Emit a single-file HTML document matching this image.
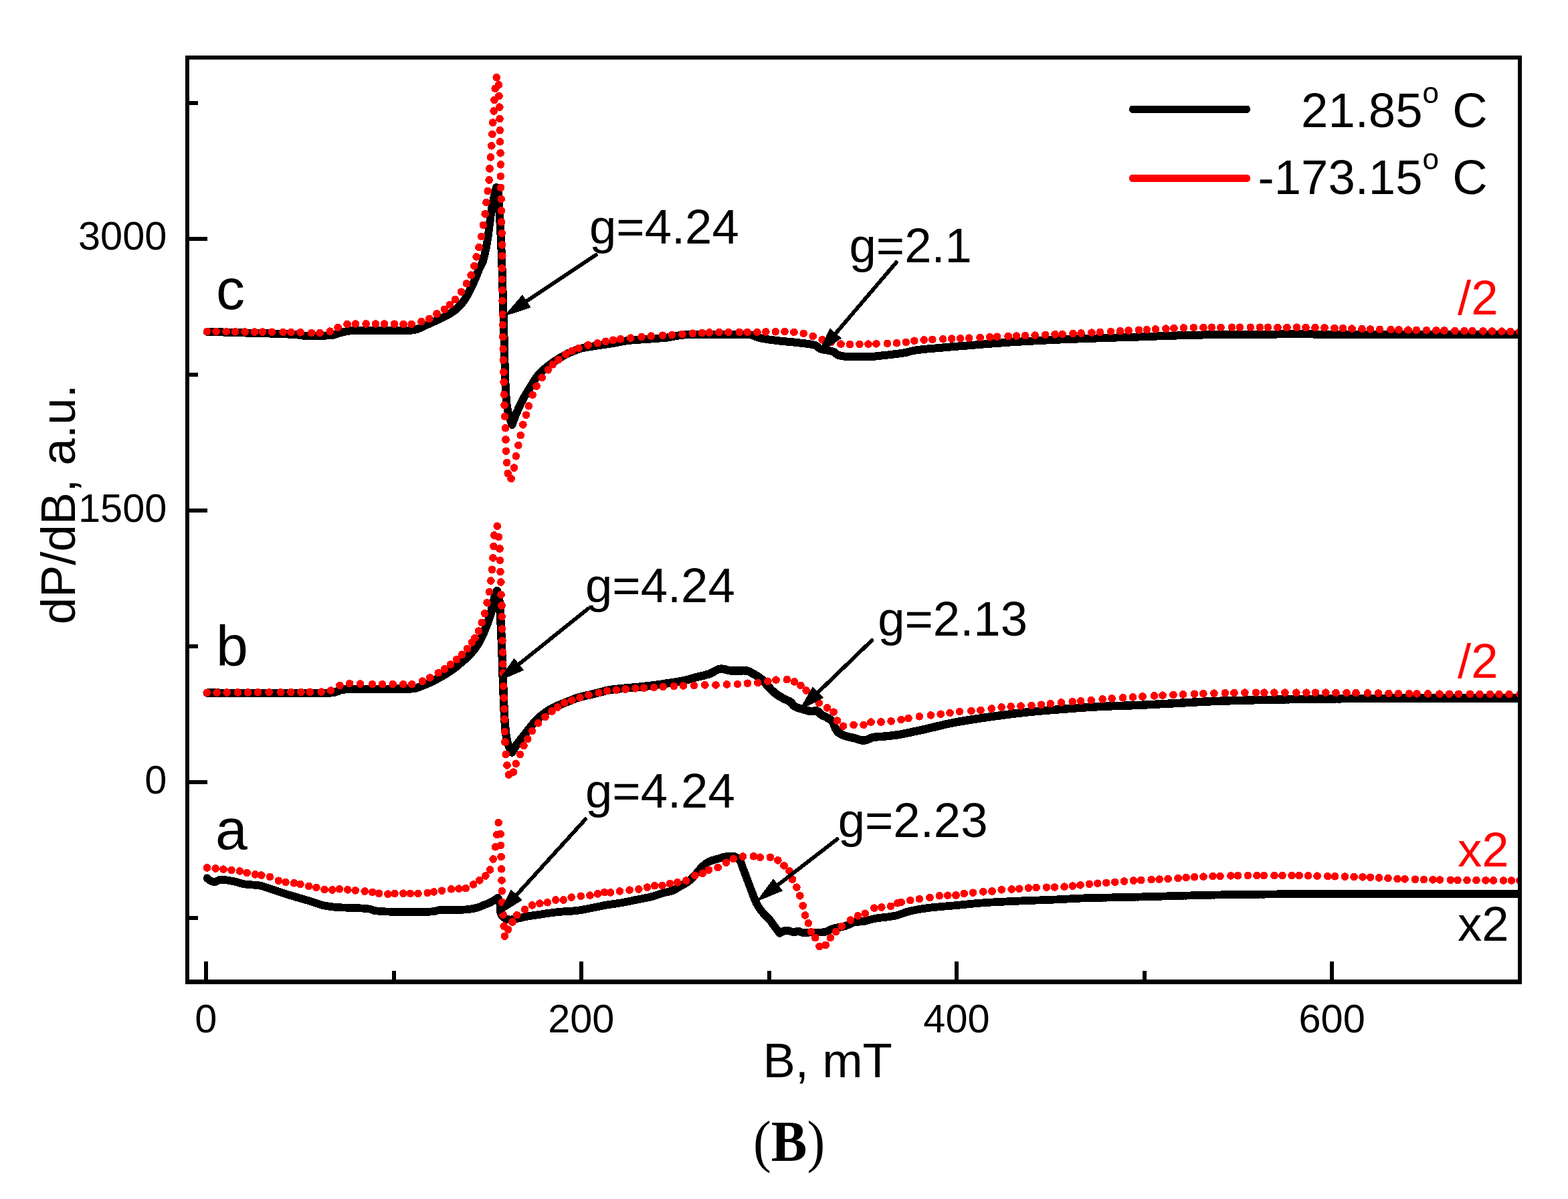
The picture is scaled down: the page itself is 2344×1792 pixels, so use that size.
<!DOCTYPE html>
<html lang="en"><head><meta charset="utf-8"><title>EPR spectra (B)</title>
<style>html,body{margin:0;padding:0;background:#fff}body{width:2344px;height:1792px;overflow:hidden}svg{display:block}</style>
</head><body>
<svg width="2344" height="1792" viewBox="0 0 2344 1792">
<defs><clipPath id="cp"><rect x="283" y="89" width="1992" height="1375"/></clipPath></defs>
<rect width="2344" height="1792" fill="#fff"/>
<g clip-path="url(#cp)" fill="none" stroke-linejoin="round" stroke-linecap="round" shape-rendering="crispEdges">
<path d="M309.6 495.8L312.6 495.9L315.6 496.0L318.6 496.0L321.7 496.1L324.7 496.2L327.7 496.3L330.7 496.4L333.7 496.5L336.7 496.6L339.7 496.7L342.8 496.7L345.8 496.8L348.8 496.9L351.8 497.0L354.8 497.1L357.8 497.2L360.8 497.3L363.9 497.4L366.9 497.5L369.9 497.6L372.9 497.7L375.9 497.7L378.9 497.8L381.9 497.9L385.0 498.0L388.0 498.1L391.0 498.2L394.0 498.2L397.0 498.3L400.0 498.4L403.1 498.5L406.1 498.6L409.1 498.7L412.1 498.8L415.1 498.9L418.1 499.0L421.1 499.1L424.1 499.2L427.2 499.3L430.2 499.5L433.2 499.6L436.2 499.7L439.2 499.9L442.2 500.2L445.2 500.5L448.2 500.9L451.2 501.3L454.2 501.7L457.2 502.0L460.2 502.2L463.2 502.2L466.2 502.2L469.2 502.1L472.3 502.1L475.3 502.0L478.3 501.9L481.4 501.8L484.4 501.7L487.4 501.5L490.4 501.4L493.4 501.2L496.3 501.0L499.3 500.5L502.2 499.6L505.0 498.6L507.9 497.6L510.8 496.8L513.8 496.1L516.7 495.5L519.7 494.9L522.7 494.4L525.7 494.0L528.7 493.8L531.7 493.8L534.7 493.8L537.7 493.8L540.7 493.8L543.7 493.8L546.7 493.8L549.8 493.8L552.8 493.8L555.8 493.8L558.8 493.8L561.8 493.8L564.9 493.8L567.9 493.8L570.9 493.8L573.9 493.8L576.9 493.8L580.0 493.8L583.0 493.8L586.0 493.8L589.0 493.9L592.0 493.9L595.1 493.9L598.1 493.9L601.1 494.0L604.1 494.0L607.1 494.0L610.1 494.0L613.1 493.8L616.1 493.5L619.1 493.0L622.0 492.4L624.8 491.4L627.6 490.3L630.4 488.9L633.2 487.6L635.9 486.4L638.7 485.2L641.4 483.9L644.2 482.7L646.9 481.5L649.7 480.2L652.4 478.9L655.1 477.7L657.9 476.4L660.6 475.1L663.4 473.8L666.1 472.5L668.8 471.1L671.4 469.6L673.9 468.0L676.4 466.3L678.9 464.5L681.3 462.7L683.5 460.7L685.7 458.7L687.8 456.5L689.8 454.2L691.7 451.8L693.5 449.4L695.2 446.9L696.8 444.4L698.3 441.8L699.7 439.1L701.1 436.4L702.5 433.7L703.8 431.0L705.2 428.3L706.5 425.6L707.7 422.9L709.0 420.1L710.2 417.3L711.4 414.6L712.5 411.8L713.6 409.0L714.7 406.1L715.8 403.3L717.0 400.6L718.3 397.9L719.8 395.2L721.2 392.5L722.2 389.7L723.0 386.8L723.7 383.9L724.4 380.9L725.0 378.0L725.7 375.0L726.3 372.1L726.9 369.1L727.4 366.2L728.0 363.2L728.5 360.2L728.9 357.2L729.4 354.3L729.8 351.3L730.2 348.3L730.6 345.3L731.0 342.3L731.3 339.3L731.7 336.3L732.1 333.3L732.5 330.3L732.9 327.3L733.3 324.4L733.7 321.4L734.1 318.4L734.6 315.4L735.1 312.4L735.6 309.5L736.1 306.5L736.7 303.5L737.3 300.6L738.0 297.6L738.6 294.7L739.2 291.7L739.9 288.8L740.6 285.9L741.3 282.9L742.0 280.0L743.2 282.8L744.3 285.7L745.0 288.6L745.2 291.6L745.4 294.6L745.5 297.6L745.6 300.6L745.7 303.7L745.9 306.7L746.1 309.7L746.2 312.7L746.4 315.8L746.6 318.8L746.8 321.8L747.0 324.8L747.2 327.8L747.4 330.8L747.6 333.9L747.8 336.9L748.0 339.9L748.1 342.9L748.3 345.9L748.4 349.0L748.6 352.0L748.7 355.0L748.9 358.0L749.0 361.0L749.1 364.1L749.3 367.1L749.4 370.1L749.5 373.1L749.6 376.1L749.7 379.2L749.9 382.2L750.0 385.2L750.1 388.2L750.2 391.2L750.3 394.3L750.4 397.3L750.5 400.3L750.6 403.3L750.7 406.4L750.8 409.4L750.9 412.4L751.0 415.4L751.1 418.4L751.2 421.5L751.3 424.5L751.3 427.5L751.4 430.5L751.5 433.6L751.6 436.6L751.7 439.6L751.8 442.6L751.8 445.6L751.9 448.7L752.0 451.7L752.1 454.7L752.2 457.7L752.2 460.8L752.3 463.8L752.4 466.8L752.5 469.8L752.6 472.8L752.6 475.9L752.7 478.9L752.8 481.9L752.9 484.9L753.0 488.0L753.1 491.0L753.2 494.0L753.3 497.0L753.4 500.0L753.5 503.1L753.6 506.1L753.6 509.1L753.7 512.1L753.8 515.2L753.9 518.2L754.0 521.3L754.1 524.3L754.1 527.3L754.2 530.4L754.3 533.4L754.4 536.4L754.4 539.5L754.5 542.5L754.6 545.6L754.7 548.6L754.8 551.6L754.9 554.7L755.0 557.7L755.1 560.7L755.2 563.7L755.3 566.8L755.4 569.8L755.5 572.8L755.7 575.8L755.8 578.8L755.9 581.8L756.1 584.8L756.3 587.8L756.4 590.8L756.6 593.8L756.8 596.8L757.0 599.8L757.3 602.8L757.6 605.7L758.1 608.7L758.7 611.6L759.3 614.6L760.1 617.5L760.9 620.4L761.8 623.3L762.7 626.3L763.7 629.2L764.6 632.1L765.5 635.0L766.5 632.1L767.5 629.3L768.5 626.5L769.6 623.6L770.7 620.8L771.8 618.1L773.0 615.3L774.2 612.6L775.4 609.8L776.7 607.1L777.9 604.4L779.2 601.7L780.6 599.1L782.0 596.4L783.5 593.8L785.0 591.2L786.5 588.6L788.1 586.0L789.6 583.5L791.2 580.9L792.8 578.4L794.4 575.8L796.0 573.3L797.5 570.7L799.1 568.1L800.8 565.6L802.5 563.2L804.4 560.9L806.3 558.6L808.4 556.4L810.6 554.3L812.8 552.3L815.1 550.4L817.4 548.5L819.8 546.6L822.2 544.8L824.6 543.0L827.1 541.3L829.6 539.6L832.1 538.0L834.6 536.4L837.2 534.8L839.8 533.3L842.4 531.8L845.0 530.3L847.7 529.0L850.4 527.7L853.1 526.5L855.9 525.3L858.7 524.2L861.5 523.1L864.4 522.1L867.2 521.2L870.1 520.3L873.0 519.7L875.9 519.1L878.9 518.6L881.9 518.2L884.9 517.7L887.8 517.3L890.8 516.8L893.8 516.4L896.7 516.0L899.7 515.5L902.7 515.1L905.6 514.7L908.6 514.2L911.6 513.8L914.5 513.3L917.5 512.8L920.4 512.2L923.4 511.7L926.3 511.1L929.3 510.6L932.3 510.0L935.2 509.6L938.2 509.1L941.2 508.8L944.1 508.5L947.1 508.3L950.1 508.0L953.1 507.8L956.1 507.6L959.1 507.4L962.1 507.2L965.1 507.0L968.1 506.8L971.1 506.6L974.1 506.4L977.1 506.2L980.1 506.0L983.1 505.8L986.1 505.5L989.0 505.3L992.0 505.1L995.0 504.8L998.0 504.4L1001.0 504.0L1003.9 503.5L1006.9 502.9L1009.8 502.3L1012.8 501.8L1015.8 501.3L1018.7 500.9L1021.7 500.6L1024.7 500.4L1027.7 500.3L1030.7 500.2L1033.7 500.1L1036.7 500.0L1039.7 499.9L1042.7 499.9L1045.7 499.8L1048.7 499.8L1051.7 499.8L1054.7 499.8L1057.7 499.8L1060.7 499.8L1063.7 499.8L1066.8 499.8L1069.8 499.7L1072.8 499.7L1075.8 499.7L1078.9 499.7L1081.9 499.7L1084.9 499.7L1087.9 499.7L1090.9 499.7L1093.9 499.7L1096.9 499.7L1099.9 499.7L1102.9 499.7L1105.9 499.7L1108.8 499.7L1111.8 499.7L1114.8 499.7L1117.7 499.7L1120.6 500.0L1123.5 500.7L1126.3 501.7L1129.2 502.8L1132.1 503.9L1135.0 504.8L1137.9 505.5L1140.8 506.0L1143.8 506.5L1146.7 507.0L1149.7 507.5L1152.7 507.9L1155.7 508.3L1158.7 508.7L1161.6 509.0L1164.6 509.4L1167.6 509.7L1170.6 510.0L1173.6 510.3L1176.6 510.6L1179.5 510.8L1182.5 511.1L1185.5 511.4L1188.5 511.7L1191.5 512.0L1194.5 512.4L1197.5 512.7L1200.6 513.0L1203.7 513.4L1206.7 513.8L1209.7 514.2L1212.6 514.7L1215.5 515.3L1218.2 516.0L1220.8 517.3L1223.2 519.3L1225.7 521.1L1228.4 522.1L1231.3 522.7L1234.3 523.3L1237.4 523.7L1240.4 524.2L1243.3 524.9L1246.1 525.8L1248.6 527.4L1251.0 529.5L1253.5 531.0L1256.3 531.6L1259.2 532.1L1262.1 532.6L1265.2 532.9L1268.3 533.1L1271.3 533.3L1274.3 533.3L1277.3 533.3L1280.3 533.3L1283.3 533.3L1286.3 533.3L1289.3 533.3L1292.3 533.3L1295.3 533.3L1298.3 533.2L1301.3 533.1L1304.3 532.9L1307.3 532.6L1310.3 532.3L1313.3 532.0L1316.3 531.6L1319.3 531.3L1322.3 531.0L1325.2 530.7L1328.2 530.4L1331.2 530.0L1334.2 529.7L1337.2 529.3L1340.2 529.0L1343.1 528.6L1346.1 528.2L1349.1 527.7L1352.0 527.2L1355.0 526.7L1357.9 526.0L1360.8 525.2L1363.7 524.5L1366.6 523.8L1369.6 523.4L1372.6 523.0L1375.5 522.6L1378.5 522.3L1381.5 521.9L1384.5 521.6L1387.5 521.4L1390.5 521.1L1393.4 520.8L1396.4 520.6L1399.4 520.4L1402.4 520.1L1405.4 519.9L1408.4 519.6L1411.4 519.3L1414.4 519.1L1417.4 518.8L1420.4 518.5L1423.4 518.3L1426.4 518.0L1429.3 517.8L1432.3 517.5L1435.3 517.3L1438.3 517.0L1441.3 516.8L1444.3 516.6L1447.3 516.3L1450.3 516.1L1453.3 515.8L1456.3 515.6L1459.3 515.4L1462.2 515.1L1465.2 514.9L1468.2 514.7L1471.2 514.4L1474.2 514.2L1477.2 514.0L1480.2 513.7L1483.2 513.5L1486.2 513.3L1489.2 513.1L1492.2 512.8L1495.2 512.6L1498.1 512.4L1501.1 512.2L1504.1 512.0L1507.1 511.7L1510.1 511.5L1513.1 511.3L1516.1 511.2L1519.1 511.0L1522.1 510.8L1525.1 510.6L1528.1 510.4L1531.1 510.3L1534.1 510.1L1537.1 509.9L1540.1 509.8L1543.1 509.6L1546.1 509.4L1549.1 509.3L1552.1 509.1L1555.1 509.0L1558.0 508.8L1561.0 508.7L1564.0 508.5L1567.0 508.4L1570.0 508.2L1573.0 508.1L1576.0 508.0L1579.0 507.8L1582.0 507.7L1585.0 507.5L1588.0 507.4L1591.0 507.3L1594.0 507.2L1597.0 507.0L1600.0 506.9L1603.0 506.8L1606.0 506.7L1609.0 506.6L1612.0 506.4L1615.0 506.3L1618.0 506.2L1621.0 506.1L1624.0 506.0L1627.0 505.9L1630.0 505.8L1633.0 505.7L1636.0 505.6L1639.0 505.5L1642.0 505.4L1645.0 505.3L1648.0 505.2L1651.0 505.1L1654.0 505.0L1657.0 504.9L1660.0 504.8L1663.0 504.7L1666.0 504.6L1669.0 504.5L1672.0 504.4L1675.0 504.3L1678.0 504.2L1681.0 504.1L1684.0 504.1L1687.0 504.0L1690.0 503.9L1693.0 503.8L1696.0 503.7L1699.0 503.6L1702.0 503.5L1705.0 503.4L1708.0 503.3L1711.0 503.2L1714.0 503.1L1717.0 503.0L1720.0 502.9L1723.0 502.8L1726.0 502.6L1729.0 502.5L1732.0 502.4L1735.0 502.3L1738.0 502.2L1741.0 502.1L1744.0 502.0L1747.0 501.9L1750.0 501.8L1753.0 501.7L1756.0 501.6L1758.9 501.5L1761.9 501.4L1764.9 501.3L1767.9 501.2L1770.9 501.1L1773.9 501.0L1776.9 500.9L1779.9 500.8L1782.9 500.8L1785.9 500.7L1788.9 500.6L1791.9 500.6L1794.9 500.5L1797.9 500.5L1800.9 500.4L1803.9 500.4L1806.9 500.4L1809.9 500.3L1812.9 500.3L1815.9 500.2L1818.9 500.2L1821.9 500.2L1824.9 500.1L1827.9 500.1L1830.9 500.1L1833.9 500.0L1836.9 500.0L1839.9 500.0L1842.9 499.9L1845.9 499.9L1848.9 499.9L1851.9 499.9L1854.9 499.8L1857.9 499.8L1860.9 499.8L1863.9 499.7L1866.9 499.7L1869.9 499.7L1872.9 499.7L1875.9 499.7L1878.9 499.6L1881.9 499.6L1884.9 499.6L1887.9 499.6L1890.9 499.6L1893.9 499.5L1896.9 499.5L1899.9 499.5L1902.9 499.5L1905.9 499.5L1908.9 499.5L1912.0 499.4L1915.0 499.4L1918.0 499.4L1921.0 499.4L1924.0 499.4L1927.0 499.4L1930.0 499.4L1933.0 499.4L1936.0 499.4L1939.0 499.4L1942.0 499.4L1945.0 499.4L1948.0 499.4L1951.0 499.4L1954.0 499.4L1957.0 499.4L1960.0 499.4L1963.0 499.5L1966.0 499.5L1969.0 499.5L1972.0 499.5L1975.0 499.5L1978.0 499.5L1981.0 499.6L1984.0 499.6L1987.0 499.6L1990.0 499.6L1993.0 499.6L1996.0 499.7L1999.0 499.7L2002.0 499.7L2005.0 499.7L2008.0 499.8L2011.0 499.8L2014.0 499.8L2017.0 499.8L2020.0 499.9L2023.0 499.9L2026.0 499.9L2029.0 500.0L2032.0 500.0L2035.0 500.0L2038.0 500.0L2041.0 500.1L2044.0 500.1L2047.0 500.1L2050.0 500.1L2053.0 500.2L2056.0 500.2L2059.0 500.2L2062.0 500.2L2065.0 500.2L2068.0 500.3L2071.0 500.3L2074.0 500.3L2077.0 500.3L2080.0 500.3L2083.0 500.3L2086.0 500.4L2089.0 500.4L2092.0 500.4L2095.0 500.4L2098.0 500.4L2101.0 500.4L2104.0 500.4L2107.0 500.4L2110.0 500.4L2113.0 500.4L2116.0 500.4L2119.0 500.4L2122.0 500.4L2125.0 500.4L2128.0 500.4L2131.0 500.4L2134.0 500.4L2137.0 500.4L2140.0 500.4L2143.0 500.4L2146.0 500.4L2149.0 500.4L2152.0 500.4L2155.0 500.4L2158.0 500.4L2161.0 500.4L2164.0 500.4L2167.0 500.4L2170.0 500.4L2173.0 500.4L2176.0 500.4L2179.0 500.4L2182.0 500.4L2185.0 500.4L2188.0 500.4L2191.0 500.4L2194.0 500.4L2197.0 500.4L2200.0 500.4L2203.0 500.4L2206.0 500.4L2209.0 500.4L2212.0 500.4L2215.0 500.4L2218.0 500.4L2221.0 500.4L2224.0 500.4L2227.0 500.4L2230.0 500.4L2233.0 500.4L2236.0 500.4L2239.0 500.4L2242.0 500.4L2245.0 500.4L2248.0 500.4L2251.0 500.4L2254.0 500.4L2257.0 500.4L2260.0 500.4L2263.0 500.4L2266.0 500.4L2269.0 500.4L2272.0 500.4" stroke="#000" stroke-width="12.0"/>
<path d="M309.6 495.4h0M323.1 495.5h0M338.1 495.7h0M351.6 495.8h0M366.1 496.0h0M380.6 496.1h0M392.6 496.1h0M406.6 496.2h0M423.1 496.3h0M435.1 496.5h0M449.1 496.8h0M465.6 497.5h0M478.1 497.5h0M493.3 495.2h0M505.1 489.6h0M519.1 484.5h0M531.6 484.0h0M547.1 484.0h0M561.6 484.0h0M574.6 484.0h0M589.6 484.2h0M603.1 484.4h0M615.2 484.4h0M630.0 480.6h0M641.7 476.5h0M653.0 469.0h0M664.4 462.4h0M672.4 455.5h0M680.4 447.6h0M689.5 436.2h0M697.4 423.7h0M704.2 411.2h0M708.8 397.5h0M712.2 383.9h0M716.0 369.6h0M719.6 353.5h0M722.4 336.4h0M725.2 319.8h0M727.0 302.6h0M729.2 285.6h0M731.1 269.0h0M732.0 252.0h0M733.5 234.9h0M734.8 217.9h0M735.9 200.7h0M736.8 183.2h0M738.1 166.0h0M739.0 149.4h0M740.3 132.4h0M742.3 115.8h0M745.5 126.9h0M745.9 143.5h0M746.8 160.1h0M747.0 177.7h0M747.3 194.8h0M747.5 211.8h0M748.1 228.8h0M748.3 245.9h0M748.4 263.5h0M748.6 280.4h0M749.2 297.6h0M749.5 314.8h0M749.5 331.7h0M750.3 348.7h0M750.5 365.9h0M750.7 382.5h0M750.5 401.0h0M750.6 417.5h0M750.8 433.5h0M751.0 449.5h0M751.4 470.0h0M751.6 485.6h0M751.9 503.6h0M752.2 521.6h0M752.5 538.1h0M752.9 556.1h0M753.2 571.1h0M753.6 589.6h0M754.1 605.6h0M754.6 622.6h0M755.6 639.8h0M756.0 657.0h0M756.6 674.2h0M757.6 691.4h0M759.2 707.6h0M764.1 715.3h0M768.4 699.1h0M771.4 681.7h0M774.8 665.5h0M778.3 650.6h0M781.9 634.8h0M786.4 620.2h0M790.4 606.8h0M796.1 590.2h0M802.1 577.1h0M810.2 564.3h0M819.4 552.8h0M826.4 544.7h0M834.9 537.6h0M845.7 529.5h0M854.8 524.5h0M864.9 520.4h0M879.1 515.8h0M893.2 512.9h0M905.4 510.3h0M916.5 508.3h0M927.6 506.7h0M942.8 505.2h0M959.0 503.6h0M973.2 502.2h0M990.4 501.2h0M1004.5 500.6h0M1020.0 499.6h0M1035.5 498.3h0M1049.4 497.5h0M1060.4 496.9h0M1074.9 496.5h0M1088.9 496.4h0M1105.4 496.4h0M1117.4 496.4h0M1131.9 496.3h0M1144.9 496.0h0M1159.4 495.7h0M1173.0 495.6h0M1186.9 496.3h0M1201.3 498.4h0M1215.2 502.4h0M1229.2 507.8h0M1242.2 511.7h0M1257.0 514.1h0M1270.5 514.7h0M1285.0 514.4h0M1298.0 514.2h0M1310.0 513.9h0M1326.5 513.4h0M1340.5 512.7h0M1354.4 511.4h0M1366.8 509.3h0M1381.2 508.0h0M1393.7 507.4h0M1409.7 506.7h0M1422.7 506.2h0M1435.7 505.7h0M1448.7 505.2h0M1465.1 504.4h0M1479.6 503.7h0M1490.6 503.2h0M1507.1 502.6h0M1519.6 502.1h0M1532.6 501.6h0M1547.1 501.1h0M1562.6 500.4h0M1577.1 499.8h0M1588.1 499.3h0M1604.1 498.6h0M1616.1 498.0h0M1632.0 497.1h0M1644.5 496.4h0M1660.5 495.5h0M1674.5 494.7h0M1687.0 494.0h0M1702.5 493.3h0M1714.4 492.7h0M1727.4 492.0h0M1742.9 491.2h0M1754.9 490.6h0M1769.4 490.0h0M1784.4 489.5h0M1798.9 489.3h0M1811.4 489.3h0M1824.9 489.3h0M1841.4 489.3h0M1853.4 489.3h0M1869.4 489.3h0M1883.4 489.3h0M1895.4 489.3h0M1909.9 489.3h0M1923.9 489.3h0M1938.5 489.3h0M1952.0 489.4h0M1966.0 489.6h0M1980.0 489.9h0M1995.0 490.3h0M2007.5 490.7h0M2021.0 491.1h0M2036.0 491.6h0M2048.5 492.0h0M2062.5 492.4h0M2079.0 492.7h0M2091.0 492.9h0M2105.0 493.2h0M2117.5 493.4h0M2132.5 493.6h0M2147.0 493.9h0M2159.0 494.0h0M2175.0 494.3h0M2189.0 494.5h0M2201.0 494.6h0M2217.0 494.8h0M2230.5 495.0h0M2245.0 495.2h0M2258.0 495.3h0M2272.0 495.4h0" stroke="#f00" stroke-width="11.7"/>
<path d="M309.6 1035.6L312.6 1035.6L315.6 1035.6L318.6 1035.6L321.6 1035.6L324.6 1035.6L327.6 1035.7L330.7 1035.7L333.7 1035.7L336.7 1035.7L339.7 1035.7L342.7 1035.7L345.7 1035.7L348.7 1035.7L351.7 1035.7L354.7 1035.7L357.7 1035.7L360.7 1035.7L363.7 1035.7L366.7 1035.7L369.7 1035.7L372.7 1035.7L375.7 1035.8L378.7 1035.8L381.7 1035.8L384.7 1035.8L387.7 1035.8L390.7 1035.8L393.7 1035.8L396.8 1035.8L399.8 1035.8L402.8 1035.8L405.8 1035.8L408.8 1035.8L411.8 1035.8L414.8 1035.8L417.8 1035.8L420.8 1035.8L423.8 1035.8L426.8 1035.8L429.8 1035.8L432.8 1035.8L435.8 1035.8L438.8 1035.8L441.8 1035.8L444.8 1035.8L447.8 1035.8L450.8 1035.8L453.8 1035.8L456.8 1035.8L459.8 1035.8L462.8 1035.8L465.8 1035.8L468.8 1035.8L471.8 1035.8L474.8 1035.8L477.8 1035.8L480.8 1035.8L483.8 1035.8L486.8 1035.8L489.8 1035.7L492.8 1035.5L495.8 1035.2L498.8 1035.0L501.6 1034.2L504.5 1033.1L507.3 1031.9L510.2 1031.1L513.1 1030.6L516.1 1030.2L519.1 1029.9L522.1 1029.8L525.1 1029.8L528.1 1029.8L531.1 1029.8L534.1 1029.8L537.1 1029.8L540.1 1029.8L543.1 1029.8L546.1 1029.8L549.1 1029.8L552.1 1029.8L555.1 1029.8L558.1 1029.8L561.1 1029.8L564.1 1029.8L567.1 1029.8L570.2 1029.8L573.2 1029.8L576.2 1029.8L579.2 1029.8L582.2 1029.8L585.2 1029.8L588.2 1029.8L591.3 1029.7L594.3 1029.7L597.3 1029.7L600.3 1029.6L603.4 1029.6L606.4 1029.5L609.3 1029.5L612.3 1029.4L615.2 1029.3L618.2 1029.2L621.1 1028.7L623.9 1027.8L626.8 1026.7L629.6 1025.5L632.5 1024.3L635.2 1023.2L638.0 1022.1L640.8 1020.9L643.5 1019.6L646.2 1018.3L648.9 1017.0L651.6 1015.6L654.2 1014.2L656.9 1012.8L659.5 1011.3L662.1 1009.8L664.7 1008.3L667.3 1006.7L669.8 1005.1L672.4 1003.5L674.8 1001.8L677.3 1000.1L679.6 998.2L682.0 996.4L684.3 994.4L686.6 992.5L688.9 990.6L691.2 988.6L693.5 986.7L695.8 984.7L698.0 982.7L700.2 980.6L702.2 978.4L704.3 976.2L706.2 974.0L708.2 971.6L710.0 969.2L711.8 966.8L713.4 964.3L715.0 961.8L716.5 959.2L717.9 956.5L719.3 953.8L720.6 951.1L721.9 948.4L723.1 945.7L724.3 942.9L725.4 940.1L726.5 937.3L727.6 934.5L728.6 931.7L729.7 928.9L730.6 926.0L731.6 923.2L732.5 920.3L733.4 917.4L734.2 914.6L734.9 911.6L735.6 908.7L736.3 905.8L737.0 902.9L737.7 900.0L738.4 897.0L739.1 894.1L739.8 891.1L740.6 888.3L741.6 885.5L743.0 882.8L743.9 885.7L744.7 888.6L745.4 891.5L745.9 894.5L746.3 897.5L746.6 900.4L746.9 903.4L747.1 906.4L747.3 909.4L747.5 912.4L747.7 915.5L747.9 918.5L748.1 921.5L748.2 924.5L748.4 927.5L748.5 930.5L748.7 933.5L748.8 936.5L749.0 939.6L749.1 942.6L749.3 945.6L749.4 948.6L749.5 951.6L749.6 954.6L749.8 957.6L749.9 960.6L750.0 963.6L750.1 966.6L750.2 969.6L750.3 972.7L750.5 975.7L750.6 978.7L750.7 981.7L750.8 984.7L750.9 987.7L751.0 990.7L751.1 993.7L751.2 996.7L751.3 999.7L751.4 1002.8L751.5 1005.8L751.6 1008.8L751.7 1011.8L751.8 1014.8L751.9 1017.8L752.0 1020.8L752.1 1023.8L752.3 1026.8L752.4 1029.8L752.5 1032.8L752.6 1035.9L752.7 1038.9L752.8 1041.9L752.9 1044.9L753.1 1047.9L753.2 1050.9L753.3 1053.9L753.5 1056.9L753.6 1059.9L753.7 1062.9L753.9 1066.0L754.1 1069.0L754.2 1072.0L754.4 1075.0L754.6 1078.0L754.8 1081.0L755.1 1084.0L755.3 1087.0L755.6 1090.1L755.9 1093.1L756.2 1096.1L756.6 1099.1L757.0 1102.0L757.5 1104.9L758.1 1107.8L758.9 1110.6L760.0 1113.5L761.2 1116.3L762.5 1119.0L763.9 1121.8L765.3 1124.5L766.8 1121.9L768.4 1119.3L770.0 1116.8L771.7 1114.3L773.4 1111.8L775.1 1109.4L777.0 1107.0L778.8 1104.6L780.7 1102.3L782.6 1100.0L784.5 1097.6L786.3 1095.3L788.2 1092.9L790.0 1090.5L791.9 1088.0L793.8 1085.7L795.7 1083.3L797.6 1081.0L799.6 1078.7L801.6 1076.6L803.7 1074.5L805.8 1072.5L808.1 1070.5L810.4 1068.6L812.8 1066.8L815.3 1065.0L817.8 1063.2L820.3 1061.6L822.9 1060.0L825.5 1058.6L828.1 1057.2L830.8 1055.9L833.6 1054.7L836.4 1053.6L839.2 1052.4L842.0 1051.3L844.8 1050.2L847.6 1049.1L850.4 1047.9L853.2 1046.8L856.0 1045.7L858.8 1044.6L861.6 1043.6L864.4 1042.7L867.3 1041.8L870.2 1041.1L873.1 1040.3L876.0 1039.7L879.0 1039.0L881.9 1038.4L884.9 1037.7L887.8 1037.0L890.7 1036.2L893.6 1035.5L896.5 1034.7L899.4 1033.9L902.4 1033.2L905.3 1032.4L908.2 1031.8L911.1 1031.2L914.1 1030.8L917.1 1030.4L920.0 1030.0L923.0 1029.7L926.0 1029.4L929.0 1029.1L932.0 1028.8L935.0 1028.6L938.0 1028.3L941.0 1028.0L944.0 1027.7L947.0 1027.4L950.0 1027.1L953.0 1026.9L956.0 1026.6L958.9 1026.3L961.9 1026.0L964.9 1025.7L967.9 1025.4L970.9 1025.0L973.9 1024.6L976.8 1024.3L979.8 1023.9L982.8 1023.5L985.8 1023.0L988.8 1022.6L991.7 1022.2L994.7 1021.7L997.7 1021.3L1000.6 1020.9L1003.6 1020.4L1006.6 1020.0L1009.6 1019.5L1012.5 1019.0L1015.5 1018.5L1018.5 1018.0L1021.4 1017.4L1024.3 1016.8L1027.2 1016.1L1030.1 1015.3L1033.0 1014.5L1035.9 1013.6L1038.8 1012.8L1041.7 1012.0L1044.6 1011.3L1047.6 1010.6L1050.5 1009.9L1053.4 1009.2L1056.3 1008.4L1059.2 1007.5L1062.0 1006.5L1064.8 1005.2L1067.5 1003.6L1070.2 1002.1L1073.0 1000.8L1075.8 999.9L1078.6 999.6L1081.5 999.9L1084.4 1000.6L1087.4 1001.4L1090.4 1002.1L1093.4 1002.6L1096.4 1002.6L1099.4 1002.6L1102.4 1002.5L1105.5 1002.4L1108.5 1002.4L1111.5 1002.3L1114.4 1002.3L1117.3 1002.6L1120.1 1003.6L1122.8 1005.1L1125.5 1006.7L1128.1 1008.2L1130.7 1009.7L1133.3 1011.3L1135.8 1013.0L1138.2 1014.8L1140.4 1016.8L1142.5 1018.9L1144.4 1021.2L1146.3 1023.6L1148.3 1025.9L1150.4 1028.1L1152.5 1030.3L1154.6 1032.4L1156.8 1034.4L1159.1 1036.3L1161.5 1038.1L1164.0 1039.8L1166.6 1041.4L1169.2 1042.9L1171.8 1044.3L1174.6 1045.6L1177.4 1046.9L1180.1 1048.2L1182.4 1049.9L1184.4 1052.2L1186.3 1054.6L1188.7 1056.2L1191.5 1057.4L1194.4 1058.4L1197.2 1059.3L1200.1 1060.0L1203.1 1060.8L1206.0 1061.7L1208.9 1062.5L1211.8 1063.0L1214.9 1062.8L1217.9 1062.5L1220.7 1062.4L1223.2 1063.7L1225.5 1066.0L1227.9 1068.2L1230.5 1069.7L1233.2 1070.9L1236.0 1072.2L1238.5 1073.7L1241.1 1075.4L1243.5 1077.3L1245.2 1079.5L1246.4 1082.2L1247.5 1085.2L1248.6 1088.0L1250.1 1090.7L1251.8 1093.2L1253.8 1095.2L1256.3 1096.7L1259.1 1098.1L1262.0 1099.3L1264.9 1100.2L1267.7 1101.1L1270.7 1101.7L1273.6 1102.4L1276.6 1103.1L1279.5 1103.9L1282.4 1104.8L1285.3 1105.7L1288.2 1106.4L1291.1 1106.7L1294.0 1106.3L1296.8 1105.3L1299.7 1104.1L1302.5 1102.9L1305.4 1102.0L1308.4 1101.6L1311.4 1101.3L1314.4 1101.1L1317.4 1100.9L1320.4 1100.7L1323.4 1100.4L1326.4 1100.1L1329.4 1099.8L1332.3 1099.5L1335.3 1099.1L1338.3 1098.7L1341.3 1098.3L1344.2 1097.9L1347.2 1097.4L1350.1 1096.8L1353.1 1096.2L1356.0 1095.6L1359.0 1095.0L1361.9 1094.4L1364.9 1093.7L1367.8 1093.1L1370.7 1092.5L1373.7 1091.9L1376.6 1091.2L1379.6 1090.6L1382.5 1089.9L1385.4 1089.2L1388.3 1088.5L1391.3 1087.9L1394.2 1087.2L1397.1 1086.5L1400.0 1085.7L1403.0 1085.1L1405.9 1084.4L1408.8 1083.7L1411.7 1083.0L1414.7 1082.3L1417.6 1081.7L1420.6 1081.1L1423.5 1080.5L1426.4 1079.9L1429.4 1079.4L1432.3 1078.8L1435.3 1078.3L1438.3 1077.8L1441.2 1077.3L1444.2 1076.8L1447.1 1076.3L1450.1 1075.8L1453.1 1075.4L1456.0 1074.9L1459.0 1074.5L1462.0 1074.0L1465.0 1073.6L1467.9 1073.1L1470.9 1072.7L1473.9 1072.3L1476.9 1071.8L1479.8 1071.4L1482.8 1071.0L1485.8 1070.6L1488.8 1070.2L1491.7 1069.8L1494.7 1069.4L1497.7 1069.0L1500.7 1068.6L1503.7 1068.2L1506.6 1067.8L1509.6 1067.4L1512.6 1067.1L1515.6 1066.7L1518.6 1066.3L1521.6 1066.0L1524.5 1065.6L1527.5 1065.3L1530.5 1065.0L1533.5 1064.6L1536.5 1064.3L1539.5 1064.0L1542.5 1063.7L1545.4 1063.4L1548.4 1063.2L1551.4 1062.9L1554.4 1062.6L1557.4 1062.3L1560.4 1062.1L1563.4 1061.8L1566.4 1061.6L1569.4 1061.3L1572.4 1061.1L1575.4 1060.8L1578.4 1060.6L1581.4 1060.4L1584.4 1060.1L1587.4 1059.9L1590.4 1059.7L1593.4 1059.5L1596.4 1059.2L1599.3 1059.0L1602.3 1058.8L1605.3 1058.6L1608.3 1058.3L1611.3 1058.1L1614.3 1057.9L1617.3 1057.7L1620.3 1057.5L1623.3 1057.3L1626.3 1057.1L1629.3 1056.9L1632.3 1056.7L1635.3 1056.6L1638.3 1056.4L1641.3 1056.2L1644.3 1056.1L1647.3 1055.9L1650.3 1055.8L1653.3 1055.7L1656.3 1055.6L1659.3 1055.4L1662.3 1055.3L1665.3 1055.2L1668.3 1055.1L1671.3 1055.0L1674.3 1054.9L1677.3 1054.8L1680.3 1054.7L1683.3 1054.6L1686.4 1054.5L1689.4 1054.4L1692.4 1054.3L1695.4 1054.2L1698.4 1054.1L1701.4 1053.9L1704.4 1053.8L1707.4 1053.7L1710.4 1053.5L1713.4 1053.4L1716.4 1053.2L1719.4 1053.1L1722.4 1052.9L1725.4 1052.8L1728.4 1052.6L1731.4 1052.4L1734.4 1052.3L1737.4 1052.1L1740.4 1052.0L1743.4 1051.8L1746.4 1051.7L1749.4 1051.5L1752.4 1051.4L1755.4 1051.2L1758.4 1051.0L1761.4 1050.9L1764.4 1050.7L1767.4 1050.5L1770.4 1050.4L1773.4 1050.2L1776.4 1050.0L1779.4 1049.9L1782.4 1049.7L1785.4 1049.5L1788.4 1049.4L1791.4 1049.2L1794.4 1049.0L1797.4 1048.9L1800.4 1048.7L1803.4 1048.6L1806.4 1048.5L1809.4 1048.3L1812.4 1048.2L1815.4 1048.1L1818.4 1047.9L1821.4 1047.8L1824.4 1047.7L1827.4 1047.6L1830.4 1047.5L1833.4 1047.4L1836.4 1047.3L1839.4 1047.3L1842.4 1047.2L1845.4 1047.1L1848.4 1047.0L1851.4 1046.9L1854.4 1046.8L1857.4 1046.8L1860.4 1046.7L1863.4 1046.6L1866.4 1046.5L1869.4 1046.5L1872.4 1046.4L1875.4 1046.3L1878.4 1046.2L1881.4 1046.2L1884.4 1046.1L1887.4 1046.0L1890.5 1046.0L1893.5 1045.9L1896.5 1045.8L1899.5 1045.8L1902.5 1045.7L1905.5 1045.7L1908.5 1045.6L1911.5 1045.5L1914.5 1045.5L1917.5 1045.4L1920.5 1045.4L1923.5 1045.3L1926.5 1045.3L1929.5 1045.2L1932.5 1045.2L1935.5 1045.1L1938.5 1045.1L1941.5 1045.0L1944.5 1045.0L1947.5 1044.9L1950.5 1044.9L1953.5 1044.8L1956.5 1044.8L1959.6 1044.8L1962.6 1044.7L1965.6 1044.7L1968.6 1044.6L1971.6 1044.6L1974.6 1044.6L1977.6 1044.5L1980.6 1044.5L1983.6 1044.5L1986.6 1044.5L1989.6 1044.4L1992.6 1044.4L1995.6 1044.4L1998.6 1044.3L2001.6 1044.3L2004.6 1044.3L2007.6 1044.2L2010.6 1044.2L2013.6 1044.2L2016.6 1044.2L2019.6 1044.1L2022.6 1044.1L2025.6 1044.1L2028.6 1044.1L2031.7 1044.0L2034.7 1044.0L2037.7 1044.0L2040.7 1043.9L2043.7 1043.9L2046.7 1043.9L2049.7 1043.9L2052.7 1043.8L2055.7 1043.8L2058.7 1043.8L2061.7 1043.8L2064.7 1043.8L2067.7 1043.7L2070.7 1043.7L2073.7 1043.7L2076.7 1043.7L2079.7 1043.7L2082.7 1043.6L2085.7 1043.6L2088.7 1043.6L2091.7 1043.6L2094.7 1043.6L2097.7 1043.6L2100.8 1043.6L2103.8 1043.6L2106.8 1043.5L2109.8 1043.5L2112.8 1043.5L2115.8 1043.5L2118.8 1043.5L2121.8 1043.5L2124.8 1043.5L2127.8 1043.5L2130.8 1043.5L2133.8 1043.5L2136.8 1043.5L2139.8 1043.5L2142.8 1043.5L2145.8 1043.5L2148.8 1043.5L2151.8 1043.5L2154.8 1043.5L2157.8 1043.5L2160.8 1043.5L2163.8 1043.5L2166.8 1043.5L2169.9 1043.5L2172.9 1043.5L2175.9 1043.5L2178.9 1043.5L2181.9 1043.5L2184.9 1043.5L2187.9 1043.5L2190.9 1043.5L2193.9 1043.5L2196.9 1043.5L2199.9 1043.5L2202.9 1043.5L2205.9 1043.5L2208.9 1043.5L2211.9 1043.5L2214.9 1043.5L2217.9 1043.5L2220.9 1043.5L2223.9 1043.5L2226.9 1043.5L2229.9 1043.5L2232.9 1043.5L2235.9 1043.5L2239.0 1043.5L2242.0 1043.5L2245.0 1043.5L2248.0 1043.5L2251.0 1043.5L2254.0 1043.5L2257.0 1043.5L2260.0 1043.5L2263.0 1043.5L2266.0 1043.5L2269.0 1043.5L2272.0 1043.5" stroke="#000" stroke-width="12.4"/>
<path d="M309.6 1035.2h0M324.1 1035.1h0M339.1 1035.0h0M355.6 1034.9h0M370.6 1034.9h0M385.6 1034.8h0M402.1 1034.7h0M419.7 1034.6h0M434.8 1034.5h0M449.9 1034.4h0M463.4 1034.3h0M480.2 1034.1h0M494.5 1032.0h0M508.0 1024.4h0M522.6 1021.5h0M538.6 1022.1h0M556.6 1022.6h0M571.6 1022.6h0M587.2 1022.6h0M602.7 1022.6h0M615.7 1022.6h0M631.5 1018.1h0M642.8 1012.9h0M655.3 1005.6h0M664.4 999.9h0M673.5 993.1h0M682.6 985.6h0M690.6 978.3h0M698.6 969.6h0M705.4 960.1h0M709.9 953.3h0M715.6 943.0h0M720.2 930.5h0M724.7 916.9h0M728.1 900.9h0M731.5 884.6h0M733.8 868.0h0M735.5 851.3h0M737.0 833.8h0M738.0 816.3h0M738.8 800.0h0M743.3 786.3h0M745.5 802.5h0M747.0 820.0h0M747.5 837.5h0M748.0 854.5h0M748.8 870.0h0M749.0 888.8h0M750.0 905.0h0M750.2 921.5h0M750.5 940.0h0M750.9 957.5h0M751.3 975.0h0M751.7 992.5h0M752.1 1006.0h0M752.6 1025.5h0M753.2 1043.0h0M753.8 1059.5h0M754.1 1075.0h0M754.5 1093.5h0M755.0 1109.0h0M756.3 1127.5h0M758.0 1143.8h0M760.3 1158.0h0M767.5 1154.0h0M771.3 1141.3h0M777.5 1127.5h0M783.0 1114.5h0M788.8 1104.5h0M795.5 1092.5h0M804.5 1080.8h0M815.0 1071.3h0M825.0 1063.0h0M833.8 1057.0h0M843.8 1050.5h0M855.0 1046.3h0M867.0 1042.5h0M880.0 1038.8h0M895.0 1035.5h0M907.5 1032.5h0M921.3 1031.3h0M935.0 1030.0h0M950.0 1028.8h0M962.5 1028.3h0M977.5 1027.5h0M991.3 1026.5h0M1007.5 1025.5h0M1021.3 1025.0h0M1037.5 1024.5h0M1053.8 1023.8h0M1070.0 1023.8h0M1086.3 1023.0h0M1102.5 1022.5h0M1117.5 1021.3h0M1132.8 1020.5h0M1147.8 1018.3h0M1160.0 1016.2h0M1176.4 1015.6h0M1187.4 1018.9h0M1196.9 1024.3h0M1205.1 1032.0h0M1214.7 1040.2h0M1224.2 1050.6h0M1236.5 1057.9h0M1246.1 1064.2h0M1251.5 1077.0h0M1260.5 1085.2h0M1276.1 1083.3h0M1291.1 1083.3h0M1302.0 1079.2h0M1317.0 1079.0h0M1332.1 1077.9h0M1347.1 1075.7h0M1358.0 1073.5h0M1374.4 1070.8h0M1391.3 1069.0h0M1406.2 1067.3h0M1420.1 1065.3h0M1434.5 1063.5h0M1451.9 1062.4h0M1465.9 1061.5h0M1482.2 1059.1h0M1497.1 1057.0h0M1511.1 1056.0h0M1526.0 1055.1h0M1542.0 1054.3h0M1556.5 1053.3h0M1570.4 1051.7h0M1586.3 1050.0h0M1603.3 1048.6h0M1615.7 1047.7h0M1631.2 1046.4h0M1648.1 1045.0h0M1662.1 1043.9h0M1678.6 1042.8h0M1693.5 1041.9h0M1708.0 1041.0h0M1725.5 1039.9h0M1738.0 1039.2h0M1753.9 1038.5h0M1768.4 1037.9h0M1785.4 1037.2h0M1798.9 1036.8h0M1814.9 1036.2h0M1831.4 1035.7h0M1844.9 1035.4h0M1860.9 1035.2h0M1877.4 1035.2h0M1889.9 1035.2h0M1904.9 1035.2h0M1920.9 1035.2h0M1937.9 1035.2h0M1952.9 1035.2h0M1966.4 1035.2h0M1981.9 1035.2h0M1997.0 1035.3h0M2013.0 1035.4h0M2027.0 1035.6h0M2044.5 1035.9h0M2060.5 1036.1h0M2076.0 1036.4h0M2090.5 1036.6h0M2106.5 1036.7h0M2118.0 1036.8h0M2134.5 1036.9h0M2152.0 1037.1h0M2166.5 1037.2h0M2180.5 1037.2h0M2197.5 1037.3h0M2212.0 1037.4h0M2227.5 1037.5h0M2241.0 1037.5h0M2256.0 1037.6h0M2272.0 1037.6h0" stroke="#f00" stroke-width="11.7"/>
<path d="M309.6 1312.4L312.2 1314.8L314.9 1316.5L317.6 1317.6L320.4 1318.1L323.1 1317.6L326.0 1316.1L328.8 1314.9L331.7 1314.7L334.7 1314.9L337.7 1315.3L340.7 1315.7L343.7 1316.2L346.7 1316.8L349.7 1317.3L352.6 1318.0L355.6 1318.8L358.5 1319.7L361.4 1320.5L364.3 1321.2L367.3 1321.6L370.3 1321.9L373.3 1322.2L376.3 1322.4L379.4 1322.6L382.4 1322.8L385.4 1323.1L388.3 1323.5L391.2 1324.1L394.1 1325.0L397.0 1325.9L399.9 1326.9L402.8 1327.9L405.6 1328.9L408.5 1329.9L411.4 1330.8L414.2 1331.7L417.1 1332.7L419.9 1333.7L422.8 1334.7L425.7 1335.6L428.6 1336.5L431.4 1337.4L434.3 1338.2L437.2 1339.1L440.1 1339.9L443.0 1340.8L445.9 1341.6L448.8 1342.5L451.7 1343.3L454.6 1344.2L457.5 1345.1L460.4 1345.9L463.3 1346.8L466.2 1347.7L469.0 1348.6L471.9 1349.6L474.8 1350.7L477.6 1351.6L480.5 1352.5L483.4 1353.2L486.4 1353.8L489.3 1354.3L492.3 1354.7L495.3 1355.2L498.3 1355.5L501.3 1355.9L504.3 1356.1L507.3 1356.3L510.4 1356.4L513.4 1356.5L516.4 1356.6L519.4 1356.7L522.4 1356.7L525.4 1356.8L528.5 1356.9L531.5 1357.1L534.5 1357.2L537.5 1357.3L540.6 1357.5L543.6 1357.7L546.6 1358.0L549.6 1358.3L552.6 1358.6L555.4 1359.4L558.3 1360.7L561.2 1361.2L564.1 1361.5L567.1 1361.8L570.1 1362.0L573.1 1362.2L576.1 1362.4L579.2 1362.5L582.2 1362.6L585.2 1362.7L588.3 1362.8L591.3 1362.9L594.3 1362.9L597.4 1362.9L600.4 1363.0L603.4 1363.0L606.4 1363.0L609.4 1363.0L612.5 1363.1L615.5 1363.1L618.5 1363.1L621.5 1363.1L624.5 1363.1L627.5 1363.1L630.6 1363.1L633.6 1363.0L636.6 1362.9L639.7 1362.8L642.7 1362.6L645.7 1362.4L648.7 1362.2L651.6 1361.6L654.5 1360.6L657.5 1359.9L660.4 1359.9L663.4 1359.9L666.5 1360.0L669.5 1360.0L672.5 1360.1L675.5 1360.1L678.6 1360.1L681.6 1360.0L684.6 1360.0L687.6 1359.8L690.6 1359.7L693.7 1359.6L696.7 1359.4L699.7 1359.1L702.7 1358.7L705.7 1358.3L708.6 1357.7L711.5 1357.1L714.4 1356.2L717.3 1355.2L720.1 1354.1L722.9 1352.9L725.7 1351.8L728.5 1350.7L731.3 1349.5L734.0 1348.2L736.6 1346.7L739.2 1345.2L741.7 1343.5L744.2 1341.7L745.4 1344.5L746.4 1347.4L747.2 1350.3L747.7 1353.2L747.9 1356.3L748.0 1359.4L748.1 1362.4L748.5 1365.2L749.9 1367.9L752.1 1370.4L754.4 1372.1L757.1 1373.4L760.2 1374.3L763.1 1374.5L766.1 1374.2L769.1 1373.7L772.0 1373.1L775.0 1372.4L778.0 1371.8L781.0 1371.2L783.9 1370.6L786.9 1370.0L789.8 1369.4L792.8 1368.9L795.8 1368.4L798.8 1368.0L801.7 1367.6L804.7 1367.1L807.7 1366.7L810.7 1366.2L813.7 1365.7L816.6 1365.3L819.6 1364.9L822.6 1364.5L825.6 1364.1L828.6 1363.7L831.6 1363.4L834.6 1363.1L837.6 1362.8L840.6 1362.5L843.6 1362.3L846.6 1362.1L849.6 1361.9L852.6 1361.8L855.6 1361.6L858.6 1361.3L861.6 1361.0L864.6 1360.6L867.6 1360.2L870.5 1359.7L873.5 1359.1L876.5 1358.6L879.4 1358.0L882.4 1357.4L885.4 1356.9L888.3 1356.2L891.3 1355.6L894.2 1355.0L897.2 1354.4L900.1 1353.8L903.1 1353.2L906.0 1352.7L909.0 1352.2L912.0 1351.8L915.0 1351.4L918.0 1350.9L920.9 1350.5L923.9 1350.1L926.9 1349.6L929.9 1349.1L932.8 1348.5L935.8 1348.0L938.7 1347.4L941.7 1346.7L944.6 1346.1L947.6 1345.5L950.5 1344.9L953.5 1344.4L956.5 1343.8L959.4 1343.2L962.4 1342.7L965.4 1342.1L968.3 1341.5L971.2 1340.8L974.2 1340.1L977.0 1339.3L979.9 1338.4L982.8 1337.4L985.6 1336.4L988.5 1335.5L991.4 1334.6L994.3 1333.9L997.3 1333.3L1000.3 1332.6L1003.2 1331.8L1005.9 1330.9L1008.6 1329.6L1011.3 1328.1L1013.9 1326.5L1016.5 1324.9L1019.1 1323.4L1021.7 1321.9L1024.4 1320.4L1027.0 1318.9L1029.4 1317.2L1031.7 1315.3L1033.9 1313.2L1036.0 1311.0L1038.0 1308.8L1040.0 1306.5L1042.0 1304.3L1044.0 1302.0L1045.9 1299.6L1047.9 1297.3L1050.0 1295.2L1052.2 1293.2L1054.6 1291.2L1057.1 1289.4L1059.6 1288.0L1062.3 1286.8L1065.2 1285.8L1068.1 1284.9L1071.0 1284.1L1073.9 1283.3L1076.8 1282.4L1079.7 1281.5L1082.7 1280.7L1085.6 1280.2L1088.6 1280.0L1091.7 1279.8L1094.7 1279.7L1097.6 1280.0L1100.5 1281.2L1103.2 1283.1L1105.2 1285.0L1106.7 1287.3L1107.9 1289.9L1109.0 1292.9L1110.0 1295.9L1111.1 1299.0L1112.2 1301.8L1113.3 1304.6L1114.3 1307.4L1115.4 1310.2L1116.5 1313.1L1117.5 1315.9L1118.6 1318.7L1119.6 1321.5L1120.7 1324.4L1121.7 1327.2L1122.8 1330.0L1123.9 1332.8L1125.0 1335.6L1126.0 1338.4L1127.1 1341.3L1128.2 1344.1L1129.4 1346.9L1130.6 1349.6L1132.0 1352.2L1133.6 1354.8L1135.2 1357.3L1137.0 1359.8L1138.9 1362.2L1140.8 1364.5L1142.8 1366.7L1145.0 1368.8L1147.2 1370.9L1149.3 1373.1L1151.1 1375.4L1152.9 1377.8L1154.7 1380.3L1156.5 1382.8L1158.3 1385.2L1160.1 1387.6L1161.9 1390.0L1163.7 1392.4L1165.5 1394.8L1168.3 1393.0L1171.1 1391.7L1173.9 1390.9L1176.7 1390.7L1179.6 1391.3L1182.6 1392.3L1185.5 1393.2L1188.4 1393.2L1191.2 1391.9L1194.1 1391.7L1196.9 1392.9L1199.7 1394.0L1202.7 1394.2L1205.6 1394.0L1208.6 1393.7L1211.7 1393.5L1214.7 1393.4L1217.7 1393.4L1220.7 1393.4L1223.8 1393.4L1226.8 1393.4L1229.7 1393.4L1232.6 1393.2L1235.4 1392.4L1238.2 1391.0L1240.9 1389.6L1243.7 1388.3L1246.6 1387.5L1249.5 1386.8L1252.5 1386.3L1255.5 1385.7L1258.4 1385.2L1261.4 1384.5L1264.2 1383.8L1267.0 1382.7L1269.8 1381.4L1272.5 1380.0L1275.3 1378.9L1278.2 1378.3L1281.1 1377.9L1284.1 1377.7L1287.2 1377.4L1290.2 1377.1L1293.1 1376.6L1296.0 1376.0L1298.9 1375.1L1301.8 1374.3L1304.7 1373.5L1307.6 1372.9L1310.6 1372.4L1313.6 1372.0L1316.6 1371.6L1319.6 1371.2L1322.6 1370.9L1325.5 1370.6L1328.5 1370.2L1331.5 1369.8L1334.5 1369.3L1337.4 1368.8L1340.3 1368.2L1343.2 1367.3L1346.0 1366.4L1348.9 1365.3L1351.7 1364.3L1354.6 1363.3L1357.4 1362.5L1360.3 1361.8L1363.3 1361.1L1366.2 1360.5L1369.1 1359.9L1372.1 1359.4L1375.1 1358.8L1378.0 1358.3L1381.0 1357.9L1384.0 1357.5L1387.0 1357.1L1389.9 1356.7L1392.9 1356.4L1395.9 1356.1L1398.9 1355.8L1401.9 1355.5L1404.9 1355.2L1407.9 1355.0L1410.8 1354.7L1413.8 1354.5L1416.8 1354.2L1419.8 1354.0L1422.8 1353.7L1425.8 1353.5L1428.8 1353.2L1431.8 1352.9L1434.8 1352.6L1437.8 1352.3L1440.8 1352.0L1443.7 1351.7L1446.7 1351.4L1449.7 1351.0L1452.7 1350.8L1455.7 1350.5L1458.7 1350.2L1461.7 1349.9L1464.7 1349.7L1467.7 1349.5L1470.7 1349.3L1473.6 1349.1L1476.6 1348.9L1479.6 1348.7L1482.6 1348.5L1485.6 1348.4L1488.6 1348.2L1491.6 1348.1L1494.6 1347.9L1497.6 1347.8L1500.6 1347.6L1503.6 1347.5L1506.6 1347.3L1509.6 1347.2L1512.6 1347.1L1515.6 1346.9L1518.6 1346.8L1521.6 1346.7L1524.6 1346.5L1527.6 1346.4L1530.6 1346.3L1533.6 1346.2L1536.6 1346.1L1539.6 1345.9L1542.6 1345.8L1545.6 1345.7L1548.6 1345.6L1551.6 1345.5L1554.6 1345.4L1557.6 1345.3L1560.6 1345.2L1563.6 1345.1L1566.6 1345.0L1569.6 1344.8L1572.6 1344.7L1575.6 1344.6L1578.6 1344.5L1581.6 1344.3L1584.6 1344.2L1587.6 1344.0L1590.6 1343.9L1593.6 1343.7L1596.6 1343.5L1599.6 1343.4L1602.6 1343.2L1605.6 1343.1L1608.6 1342.9L1611.6 1342.8L1614.6 1342.6L1617.6 1342.5L1620.6 1342.4L1623.6 1342.3L1626.6 1342.3L1629.6 1342.2L1632.6 1342.1L1635.6 1342.0L1638.6 1341.9L1641.6 1341.9L1644.6 1341.8L1647.6 1341.7L1650.6 1341.6L1653.6 1341.6L1656.6 1341.5L1659.6 1341.5L1662.6 1341.4L1665.6 1341.3L1668.6 1341.3L1671.6 1341.2L1674.6 1341.2L1677.6 1341.1L1680.6 1341.0L1683.6 1341.0L1686.6 1340.9L1689.6 1340.8L1692.6 1340.8L1695.6 1340.7L1698.6 1340.6L1701.6 1340.6L1704.6 1340.5L1707.6 1340.4L1710.6 1340.3L1713.6 1340.3L1716.6 1340.2L1719.6 1340.1L1722.6 1340.0L1725.6 1339.9L1728.7 1339.8L1731.7 1339.8L1734.7 1339.7L1737.7 1339.6L1740.7 1339.5L1743.7 1339.4L1746.7 1339.3L1749.7 1339.2L1752.7 1339.1L1755.7 1339.1L1758.7 1339.0L1761.7 1338.9L1764.7 1338.8L1767.7 1338.7L1770.7 1338.6L1773.7 1338.6L1776.7 1338.5L1779.7 1338.4L1782.7 1338.3L1785.7 1338.2L1788.7 1338.2L1791.7 1338.1L1794.7 1338.0L1797.7 1337.9L1800.7 1337.9L1803.7 1337.8L1806.7 1337.7L1809.7 1337.7L1812.7 1337.6L1815.7 1337.6L1818.7 1337.5L1821.7 1337.4L1824.7 1337.4L1827.7 1337.3L1830.7 1337.3L1833.7 1337.3L1836.7 1337.2L1839.7 1337.2L1842.7 1337.1L1845.7 1337.1L1848.7 1337.1L1851.7 1337.0L1854.7 1337.0L1857.7 1336.9L1860.7 1336.9L1863.7 1336.9L1866.7 1336.8L1869.7 1336.8L1872.7 1336.8L1875.7 1336.7L1878.7 1336.7L1881.7 1336.7L1884.7 1336.6L1887.7 1336.6L1890.7 1336.6L1893.7 1336.5L1896.7 1336.5L1899.7 1336.5L1902.7 1336.4L1905.7 1336.4L1908.7 1336.4L1911.7 1336.3L1914.7 1336.3L1917.7 1336.3L1920.7 1336.3L1923.8 1336.2L1926.8 1336.2L1929.8 1336.2L1932.8 1336.2L1935.8 1336.1L1938.8 1336.1L1941.8 1336.1L1944.8 1336.1L1947.8 1336.0L1950.8 1336.0L1953.8 1336.0L1956.8 1336.0L1959.8 1336.0L1962.8 1336.0L1965.8 1336.0L1968.8 1335.9L1971.8 1335.9L1974.8 1335.9L1977.8 1335.9L1980.8 1335.9L1983.8 1335.9L1986.8 1335.9L1989.8 1335.9L1992.8 1335.9L1995.8 1335.9L1998.8 1335.9L2001.8 1335.9L2004.8 1335.8L2007.8 1335.8L2010.8 1335.8L2013.8 1335.8L2016.8 1335.8L2019.8 1335.8L2022.8 1335.8L2025.8 1335.8L2028.8 1335.8L2031.8 1335.8L2034.8 1335.8L2037.8 1335.8L2040.8 1335.8L2043.8 1335.8L2046.8 1335.8L2049.8 1335.8L2052.8 1335.8L2055.8 1335.8L2058.8 1335.8L2061.8 1335.8L2064.9 1335.7L2067.9 1335.7L2070.9 1335.7L2073.9 1335.7L2076.9 1335.7L2079.9 1335.7L2082.9 1335.7L2085.9 1335.7L2088.9 1335.7L2091.9 1335.7L2094.9 1335.7L2097.9 1335.7L2100.9 1335.7L2103.9 1335.7L2106.9 1335.7L2109.9 1335.7L2112.9 1335.7L2115.9 1335.7L2118.9 1335.7L2121.9 1335.7L2124.9 1335.7L2127.9 1335.7L2130.9 1335.7L2133.9 1335.7L2136.9 1335.7L2139.9 1335.7L2142.9 1335.7L2145.9 1335.7L2148.9 1335.7L2151.9 1335.7L2154.9 1335.7L2157.9 1335.7L2160.9 1335.7L2163.9 1335.7L2166.9 1335.7L2169.9 1335.7L2172.9 1335.7L2175.9 1335.7L2178.9 1335.7L2181.9 1335.7L2184.9 1335.7L2187.9 1335.8L2190.9 1335.8L2193.9 1335.8L2196.9 1335.8L2199.9 1335.8L2203.0 1335.8L2206.0 1335.8L2209.0 1335.8L2212.0 1335.8L2215.0 1335.8L2218.0 1335.8L2221.0 1335.8L2224.0 1335.8L2227.0 1335.8L2230.0 1335.9L2233.0 1335.9L2236.0 1335.9L2239.0 1335.9L2242.0 1335.9L2245.0 1335.9L2248.0 1335.9L2251.0 1335.9L2254.0 1335.9L2257.0 1335.9L2260.0 1336.0L2263.0 1336.0L2266.0 1336.0L2269.0 1336.0L2272.0 1336.0" stroke="#000" stroke-width="11.8"/>
<path d="M309.6 1296.9h0M322.1 1298.0h0M334.0 1299.1h0M346.0 1300.4h0M358.3 1302.0h0M369.1 1304.4h0M381.3 1306.9h0M390.8 1308.1h0M403.5 1310.5h0M416.4 1316.3h0M427.0 1318.3h0M439.6 1319.8h0M448.9 1321.4h0M461.6 1324.4h0M472.9 1326.3h0M485.1 1329.4h0M496.9 1330.0h0M507.3 1328.8h0M519.8 1329.8h0M531.2 1330.9h0M545.2 1332.1h0M556.6 1333.4h0M566.5 1335.3h0M579.9 1336.2h0M589.9 1335.6h0M602.9 1335.2h0M613.4 1335.4h0M624.9 1335.6h0M639.3 1334.5h0M648.7 1333.0h0M660.6 1331.2h0M674.5 1328.8h0M686.0 1328.1h0M696.3 1327.6h0M707.7 1322.0h0M716.8 1315.8h0M725.9 1309.0h0M732.7 1299.9h0M737.2 1284.0h0M740.6 1265.8h0M742.9 1247.6h0M745.2 1229.4h0M748.2 1246.4h0M748.6 1263.5h0M749.1 1280.6h0M749.5 1298.8h0M750.0 1315.8h0M750.4 1331.7h0M750.9 1348.8h0M752.0 1367.0h0M753.2 1384.1h0M754.5 1399.2h0M759.6 1389.3h0M766.0 1378.0h0M772.8 1367.7h0M784.6 1359.3h0M795.5 1352.9h0M806.9 1350.2h0M818.3 1348.8h0M830.8 1345.0h0M842.2 1345.0h0M854.2 1341.1h0M868.3 1339.3h0M882.0 1338.1h0M893.4 1335.9h0M903.6 1333.6h0M912.7 1334.0h0M926.3 1332.0h0M941.1 1330.2h0M954.8 1329.0h0M967.3 1326.1h0M978.7 1323.8h0M990.0 1323.4h0M1001.4 1320.6h0M1012.8 1318.8h0M1025.8 1316.1h0M1039.0 1308.6h0M1050.3 1305.2h0M1059.4 1300.2h0M1073.1 1296.5h0M1085.6 1289.2h0M1096.3 1283.5h0M1110.6 1280.1h0M1126.5 1279.7h0M1136.3 1281.3h0M1151.5 1281.3h0M1162.9 1285.8h0M1172.0 1293.8h0M1180.0 1301.8h0M1184.5 1314.3h0M1190.9 1326.1h0M1195.9 1338.8h0M1200.2 1353.8h0M1203.7 1368.0h0M1208.4 1379.8h0M1212.5 1392.6h0M1218.8 1401.6h0M1225.0 1414.4h0M1234.3 1412.5h0M1241.4 1401.6h0M1249.6 1392.6h0M1258.3 1384.4h0M1271.4 1375.1h0M1282.4 1368.8h0M1293.3 1365.3h0M1306.9 1357.1h0M1317.9 1356.0h0M1331.5 1354.4h0M1341.6 1349.7h0M1347.1 1348.4h0M1360.7 1345.6h0M1374.4 1343.5h0M1389.9 1341.5h0M1404.4 1338.8h0M1416.7 1338.3h0M1429.0 1338.0h0M1441.2 1335.5h0M1454.4 1334.2h0M1469.9 1332.8h0M1483.0 1332.0h0M1497.2 1329.8h0M1512.2 1329.0h0M1523.7 1328.3h0M1537.6 1327.1h0M1549.1 1326.5h0M1564.6 1326.2h0M1576.6 1326.0h0M1591.1 1325.2h0M1603.5 1324.1h0M1615.0 1322.9h0M1628.4 1321.3h0M1640.8 1320.3h0M1653.8 1319.4h0M1666.8 1318.4h0M1680.7 1317.1h0M1694.7 1316.1h0M1705.7 1315.5h0M1721.2 1314.7h0M1733.1 1314.1h0M1746.1 1313.4h0M1761.1 1312.4h0M1773.1 1311.6h0M1785.6 1310.8h0M1799.0 1310.2h0M1813.0 1309.7h0M1824.0 1309.3h0M1840.0 1308.9h0M1850.5 1308.7h0M1865.5 1308.6h0M1879.0 1308.6h0M1889.5 1308.6h0M1905.0 1308.6h0M1917.0 1308.6h0M1931.1 1308.6h0M1942.1 1308.6h0M1955.6 1308.8h0M1969.1 1309.2h0M1984.6 1309.6h0M1995.6 1309.8h0M2010.6 1310.1h0M2024.1 1310.5h0M2037.0 1310.8h0M2048.5 1311.2h0M2061.5 1311.9h0M2075.0 1312.7h0M2089.0 1313.5h0M2100.0 1313.9h0M2115.5 1314.3h0M2128.5 1314.6h0M2142.0 1314.8h0M2152.5 1315.0h0M2168.5 1315.2h0M2179.0 1315.3h0M2193.0 1315.5h0M2207.0 1315.6h0M2221.0 1315.8h0M2232.5 1315.9h0M2247.5 1316.0h0M2259.5 1316.0h0M2272.0 1316.1h0" stroke="#f00" stroke-width="11.7"/>
</g>
<path d="M277 83h1998v1388h-1998zM283 89v1375h1986v-1375z" fill="#000" fill-rule="evenodd"/>
<path d="M308.0 1465V1437.2M588.6 1465V1451.2M869.1 1465V1437.2M1149.7 1465V1451.2M1430.3 1465V1437.2M1710.8 1465V1451.2M1991.4 1465V1437.2M282 1372.3H295.8M282 1169.3H309.6M282 966.2H295.8M282 763.2H309.6M282 560.1H295.8M282 357.1H309.6M282 154.0H295.8" stroke="#000" stroke-width="6" fill="none" shape-rendering="crispEdges"/>
<g shape-rendering="crispEdges">
<path d="M891.0 381.0L786.6 450.6" stroke="#000" stroke-width="5.8" stroke-linecap="round"/><path d="M756.2 470.8L780.9 442.0L792.3 459.2Z" fill="#000" stroke="#000" stroke-width="2" stroke-linejoin="round"/>
<path d="M1340.0 392.0L1248.8 498.8" stroke="#000" stroke-width="5.8" stroke-linecap="round"/><path d="M1225.0 526.5L1240.9 492.1L1256.6 505.5Z" fill="#000" stroke="#000" stroke-width="2" stroke-linejoin="round"/>
<path d="M878.8 910.0L775.1 993.3" stroke="#000" stroke-width="5.8" stroke-linecap="round"/><path d="M746.7 1016.2L768.7 985.3L781.6 1001.3Z" fill="#000" stroke="#000" stroke-width="2" stroke-linejoin="round"/>
<path d="M1303.4 957.0L1222.5 1035.1" stroke="#000" stroke-width="5.8" stroke-linecap="round"/><path d="M1196.2 1060.4L1215.3 1027.7L1229.6 1042.5Z" fill="#000" stroke="#000" stroke-width="2" stroke-linejoin="round"/>
<path d="M875.2 1224.4L771.8 1338.0" stroke="#000" stroke-width="5.8" stroke-linecap="round"/><path d="M747.3 1365.0L764.2 1331.0L779.5 1344.9Z" fill="#000" stroke="#000" stroke-width="2" stroke-linejoin="round"/>
<path d="M1251.5 1254.2L1162.4 1323.0" stroke="#000" stroke-width="5.8" stroke-linecap="round"/><path d="M1133.5 1345.3L1156.1 1314.8L1168.7 1331.1Z" fill="#000" stroke="#000" stroke-width="2" stroke-linejoin="round"/>
</g>
<path d="M1693.5 163.3H1863.5" stroke="#000" stroke-width="11.5" stroke-linecap="round" shape-rendering="crispEdges"/>
<path d="M1693.5 266.5H1863.5" stroke="#f00" stroke-width="11.5" stroke-linecap="round" shape-rendering="crispEdges"/>
<g font-family="'Liberation Sans', Arial, sans-serif" fill="#000">
<text x="307.7" y="1543.4" font-size="59.5" text-anchor="middle">0</text>
<text x="868.8" y="1543.4" font-size="59.5" text-anchor="middle">200</text>
<text x="1430.0" y="1543.4" font-size="59.5" text-anchor="middle">400</text>
<text x="1991.1" y="1543.4" font-size="59.5" text-anchor="middle">600</text>
<text x="249.4" y="1185.6" font-size="59.5" text-anchor="end">0</text>
<text x="249.4" y="779.8" font-size="59.5" text-anchor="end">1500</text>
<text x="249.4" y="372.6" font-size="59.5" text-anchor="end">3000</text>
<text x="1140.5" y="1610" font-size="72.5">B, mT</text>
<text transform="translate(112 754) rotate(-90)" font-size="72.5" text-anchor="middle">dP/dB, a.u.</text>
<text x="323" y="462" font-size="86">c</text>
<text x="323" y="994.7" font-size="86">b</text>
<text x="322" y="1268.7" font-size="86">a</text>
<text x="881" y="364.4" font-size="72.5">g=4.24</text>
<text x="1269.5" y="391.7" font-size="72.5">g=2.1</text>
<text x="875" y="900.3" font-size="72.5">g=4.24</text>
<text x="1312.2" y="949.5" font-size="72.5">g=2.13</text>
<text x="875" y="1206.9" font-size="72.5">g=4.24</text>
<text x="1252.7" y="1250.9" font-size="72.5">g=2.23</text>
<text x="2179" y="469.9" font-size="72.5" fill="#f00">/2</text>
<text x="2179" y="1013.1" font-size="72.5" fill="#f00">/2</text>
<text x="2179" y="1295" font-size="72.5" fill="#f00">x2</text>
<text x="2179" y="1406" font-size="72.5" fill="#000">x2</text>
<text x="2223.5" y="190.2" font-size="72.5" text-anchor="end">21.85<tspan font-size="44" dy="-36.5">o</tspan><tspan dy="36.5"> C</tspan></text>
<text x="2223.5" y="289.9" font-size="72.5" text-anchor="end">-173.15<tspan font-size="44" dy="-36.5">o</tspan><tspan dy="36.5"> C</tspan></text>
</g>
<text transform="translate(1179.6 1734.8) scale(0.93 1)" font-size="86.5" text-anchor="middle" font-family="'Liberation Serif', 'Times New Roman', serif">(<tspan font-weight="bold">B</tspan>)</text>
</svg>
</body></html>
